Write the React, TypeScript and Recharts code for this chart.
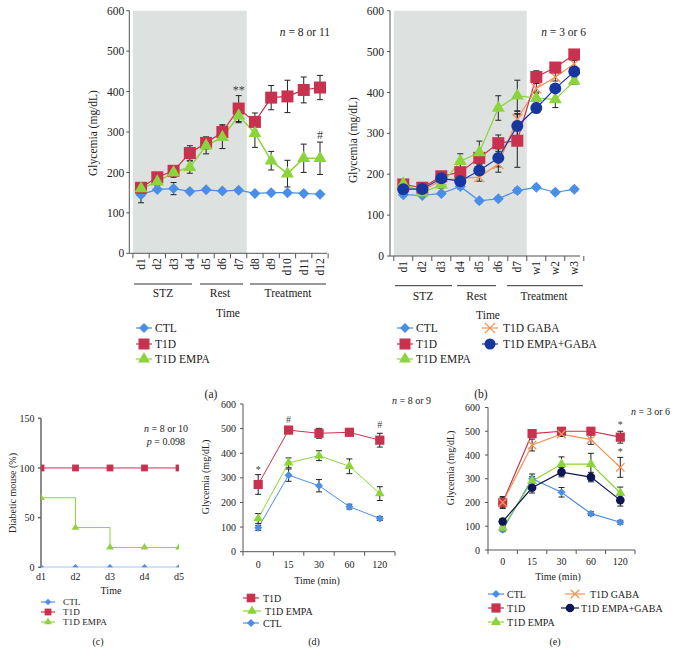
import React from 'react';
import { LineChart, Line, XAxis, YAxis, ErrorBar, ReferenceArea, ReferenceDot } from 'recharts';

const FONT = 'Liberation Serif, DejaVu Serif, serif';
const C_CTL = '#4A8FE7';
const C_T1D = '#C8324F';
const C_EMPA = '#8CD43C';
const C_GABA = '#F29458';
const C_EG_B = '#17379E';
const C_EG_E = '#0C1652';
const AXIS = '#555';
const TXT = '#222';
const ERR = '#222';

// ---------- Panel (a) ----------
const aDays = ['d1', 'd2', 'd3', 'd4', 'd5', 'd6', 'd7', 'd8', 'd9', 'd10', 'd11', 'd12'];
const aCTL = [145, 158, 160, 153, 157, 154, 156, 148, 150, 150, 148, 146];
const aCTLErr = [20, 5, 15, 5, 4, 4, 4, 4, 4, 4, 4, 4];
const aT1D = [162, 188, 204, 248, 273, 300, 358, 325, 385, 388, 404, 410];
const aT1DErr = [8, 8, 10, 18, 15, 18, 32, 22, 30, 40, 32, 30];
const aEMPA = [160, 177, 200, 213, 266, 287, 340, 297, 229, 197, 235, 235];
const aEMPAErr = [6, 10, 12, 15, 20, 28, 17, 35, 23, 33, 35, 40];
const aNotes = [{ x: 7, y: 405, t: '**' }, { x: 12, y: 293, t: '#' }];

// ---------- Panel (b) ----------
const bDays = ['d1', 'd2', 'd3', 'd4', 'd5', 'd6', 'd7', 'w1', 'w2', 'w3'];
const bCTL = [150, 148, 153, 170, 135, 140, 160, 168, 156, 163];
const bCTLErr = [5, 5, 5, 6, 5, 5, 6, 5, 5, 5];
const bT1D = [175, 167, 195, 205, 240, 276, 282, 438, 461, 493];
const bT1DErr = [6, 6, 8, 10, 15, 20, 65, 15, 12, 8];
const bEMPA = [177, 155, 174, 232, 253, 362, 392, 386, 383, 428];
const bEMPAErr = [5, 6, 8, 18, 28, 30, 38, 15, 20, 8];
const bGABA = [170, 160, 185, 190, 193, 225, 335, 410, 438, 470];
const bGABAErr = [5, 5, 8, 8, 10, 20, 20, 12, 10, 8];
const bEG = [163, 164, 190, 183, 209, 240, 318, 362, 410, 451];
const bEGErr = [5, 5, 8, 8, 10, 22, 30, 12, 10, 8];

// ---------- Panel (c) ----------
const cDays = ['d1', 'd2', 'd3', 'd4', 'd5'];
const cCTL = [0, 0, 0, 0, 0];
const cT1D = [100, 100, 100, 100, 100];
const cEMPA = [70, 40, 20, 20, 20];

// ---------- Panel (d) ----------
const dTimes = ['0', '15', '30', '60', '120'];
const dT1D = [273, 494, 481, 485, 453];
const dT1DErr = [40, 8, 20, 8, 28];
const dEMPA = [135, 361, 390, 347, 236];
const dEMPAErr = [20, 20, 20, 30, 28];
const dCTL = [97, 311, 268, 183, 135];
const dCTLErr = [10, 25, 25, 10, 8];
const dNotes = [{ x: 1, y: 334, t: '*' }, { x: 2, y: 538, t: '#' }, { x: 5, y: 516, t: '#' }];

// ---------- Panel (e) ----------
const eTimes = ['0', '15', '30', '60', '120'];
const eT1D = [200, 490, 500, 500, 475];
const eT1DErr = [25, 10, 8, 10, 25];
const eGABA = [200, 442, 488, 465, 348];
const eGABAErr = [20, 25, 10, 20, 42];
const eEMPA = [93, 290, 362, 362, 240];
const eEMPAErr = [8, 20, 30, 45, 25];
const eEG = [120, 262, 328, 307, 210];
const eEGErr = [10, 22, 20, 20, 25];
const eCTL = [85, 300, 243, 153, 117];
const eCTLErr = [8, 20, 20, 8, 8];
const eNotes = [{ x: 5, y: 530, t: '*' }, { x: 5, y: 417, t: '*' }];

const aData = aDays.map((d, i) => ({ x: i + 1, ctl: aCTL[i], ctlE: aCTLErr[i], t1d: aT1D[i], t1dE: aT1DErr[i], empa: aEMPA[i], empaE: aEMPAErr[i] }));
const bData = bDays.map((d, i) => ({ x: i + 1, ctl: bCTL[i], ctlE: bCTLErr[i], t1d: bT1D[i], t1dE: bT1DErr[i], empa: bEMPA[i], empaE: bEMPAErr[i], gaba: bGABA[i], gabaE: bGABAErr[i], eg: bEG[i], egE: bEGErr[i] }));
const cData = cDays.map((d, i) => ({ x: i + 1, ctl: cCTL[i], t1d: cT1D[i], empa: cEMPA[i] }));
const dData = dTimes.map((d, i) => ({ x: i + 1, ctl: dCTL[i], ctlE: dCTLErr[i], t1d: dT1D[i], t1dE: dT1DErr[i], empa: dEMPA[i], empaE: dEMPAErr[i] }));
const eData = eTimes.map((d, i) => ({ x: i + 1, ctl: eCTL[i], ctlE: eCTLErr[i], t1d: eT1D[i], t1dE: eT1DErr[i], empa: eEMPA[i], empaE: eEMPAErr[i], gaba: eGABA[i], gabaE: eGABAErr[i], eg: eEG[i], egE: eEGErr[i] }));

type Shape = 'diamond' | 'square' | 'triangle' | 'circle' | 'x';

function drawMarker(shape: Shape, cx: number, cy: number, s: number, color: string, key?: any) {
  if (cx == null || cy == null || isNaN(cx) || isNaN(cy)) return <g key={key} />;
  switch (shape) {
    case 'diamond':
      return <path key={key} d={`M${cx},${cy - s}L${cx + s},${cy}L${cx},${cy + s}L${cx - s},${cy}Z`} fill={color} />;
    case 'square':
      return <rect key={key} x={cx - s} y={cy - s} width={2 * s} height={2 * s} fill={color} />;
    case 'triangle': {
      const h = s * 1.73;
      return <path key={key} d={`M${cx},${cy - (2 * h) / 3}L${cx + s},${cy + h / 3}L${cx - s},${cy + h / 3}Z`} fill={color} />;
    }
    case 'circle':
      return <circle key={key} cx={cx} cy={cy} r={s} fill={color} />;
    case 'x':
      return (
        <g key={key} stroke={color} strokeWidth={1.3}>
          <line x1={cx - s} y1={cy - s} x2={cx + s} y2={cy + s} />
          <line x1={cx - s} y1={cy + s} x2={cx + s} y2={cy - s} />
        </g>
      );
  }
  return <g key={key} />;
}

const dotFn = (shape: Shape, s: number, color: string) => (p: any) => drawMarker(shape, p.cx, p.cy, s, color, `m-${p.index}`);

const RotTick = (props: any) => {
  const { x, y, payload, labels, half, fs } = props;
  const i = Math.round(payload.value) - 1;
  const last = i === labels.length - 1;
  return (
    <g>
      <line x1={x - half} x2={x - half} y1={y} y2={y + 5} stroke={AXIS} />
      {last && <line x1={x + half} x2={x + half} y1={y} y2={y + 5} stroke={AXIS} />}
      <text transform={`translate(${x + fs * 0.35},${y + 5}) rotate(-90)`} textAnchor="end" fontSize={fs} fontFamily={FONT} style={{ fontFamily: FONT }} fill={TXT}>
        {labels[i]}
      </text>
    </g>
  );
};

const HTick = (props: any) => {
  const { x, y, payload, labels, half, fs, dy, ticks } = props;
  const i = Math.round(payload.value) - 1;
  const last = i === labels.length - 1;
  return (
    <g>
      {ticks && <line x1={x - half} x2={x - half} y1={y} y2={y + 4} stroke={AXIS} />}
      {ticks && last && <line x1={x + half} x2={x + half} y1={y} y2={y + 4} stroke={AXIS} />}
      <text x={x} y={y + dy} textAnchor="middle" fontSize={fs} fontFamily={FONT} style={{ fontFamily: FONT }} fill={TXT}>
        {labels[i]}
      </text>
    </g>
  );
};

const noteDots = (notes: { x: number; y: number; t: string }[], fs: number) =>
  notes.map((n, i) => (
    <ReferenceDot
      key={`n${i}`}
      x={n.x}
      y={n.y}
      r={0}
      fill="none"
      stroke="none"
      label={{ value: n.t, position: 'center', fontSize: fs, fill: '#444', fontFamily: FONT }}
    />
  ));

function LegItem(props: { x: number; y: number; shape: Shape; color: string; s: number; label: string; fs: number; len?: number; tx?: number }) {
  const { x, y, shape, color, s, label, fs } = props;
  const len = props.len ?? 8;
  return (
    <g>
      <line x1={x - len} x2={x + len} y1={y} y2={y} stroke={color} strokeWidth={1.2} />
      {drawMarker(shape, x, y, s, color)}
      <text x={props.tx ?? x + len + 3} y={y} dy="0.35em" fontSize={fs} fontFamily={FONT} style={{ fontFamily: FONT }} fill={TXT}>
        {label}
      </text>
    </g>
  );
}

const yTick = (fs: number) => ({ fontSize: fs, fill: TXT, fontFamily: FONT, style: { fontFamily: FONT } });

function PanelA() {
  return (
    <LineChart width={340} height={300} data={aData} margin={{ top: 10.7, right: 13, bottom: 16.7, left: 0 }}>
      <XAxis type="number" dataKey="x" domain={[0.28, 12.43]} allowDataOverflow ticks={aData.map((d) => d.x)} interval={0}
        stroke={AXIS} tickLine={false} tickSize={0} tickMargin={0} height={30}
        tick={(p: any) => <RotTick {...p} labels={aDays} half={8.13} fs={11.5} />} />
      <YAxis type="number" domain={[0, 600]} allowDataOverflow ticks={[0, 100, 200, 300, 400, 500, 600]} width={129.3}
        stroke={AXIS} tickSize={3} tickMargin={2} tick={yTick(11.5)} />
      <ReferenceArea x1={0.5} x2={7.5} y1={0} y2={600} fill="#DDE1E0" fillOpacity={1} stroke="none" />
      <Line dataKey="ctl" stroke={C_CTL} strokeWidth={1.2} isAnimationActive={false} dot={dotFn('diamond', 5.5, C_CTL)} activeDot={false}>
        <ErrorBar dataKey="ctlE" width={3} stroke={ERR} strokeWidth={1} />
      </Line>
      <Line dataKey="t1d" stroke={C_T1D} strokeWidth={1.2} isAnimationActive={false} dot={dotFn('square', 6, C_T1D)} activeDot={false}>
        <ErrorBar dataKey="t1dE" width={3} stroke={ERR} strokeWidth={1} />
      </Line>
      <Line dataKey="empa" stroke={C_EMPA} strokeWidth={1.5} isAnimationActive={false} dot={dotFn('triangle', 6.5, C_EMPA)} activeDot={false}>
        <ErrorBar dataKey="empaE" width={3} stroke={ERR} strokeWidth={1} />
      </Line>
      {noteDots(aNotes, 12)}
    </LineChart>
  );
}

function PanelB() {
  return (
    <LineChart width={260} height={300} data={bData} margin={{ top: 10.7, right: 20, bottom: 14, left: 0 }}>
      <XAxis type="number" dataKey="x" domain={[0.3, 10.3]} allowDataOverflow ticks={bData.map((d) => d.x)} interval={0}
        stroke={AXIS} tickLine={false} tickSize={0} tickMargin={0} height={30}
        tick={(p: any) => <RotTick {...p} labels={bDays} half={9.5} fs={11.5} />} />
      <YAxis type="number" domain={[0, 600]} allowDataOverflow ticks={[0, 100, 200, 300, 400, 500, 600]} width={50}
        stroke={AXIS} tickSize={3} tickMargin={3} tick={yTick(11.5)} />
      <ReferenceArea x1={0.5} x2={7.5} y1={0} y2={600} fill="#DDE1E0" fillOpacity={1} stroke="none" />
      <Line dataKey="ctl" stroke={C_CTL} strokeWidth={1.2} isAnimationActive={false} dot={dotFn('diamond', 5.5, C_CTL)} activeDot={false}>
        <ErrorBar dataKey="ctlE" width={3} stroke={ERR} strokeWidth={1} />
      </Line>
      <Line dataKey="gaba" stroke={C_GABA} strokeWidth={1.2} isAnimationActive={false} dot={dotFn('x', 5, C_GABA)} activeDot={false}>
        <ErrorBar dataKey="gabaE" width={3} stroke={ERR} strokeWidth={1} />
      </Line>
      <Line dataKey="t1d" stroke={C_T1D} strokeWidth={1.2} isAnimationActive={false} dot={dotFn('square', 6, C_T1D)} activeDot={false}>
        <ErrorBar dataKey="t1dE" width={3} stroke={ERR} strokeWidth={1} />
      </Line>
      <Line dataKey="empa" stroke={C_EMPA} strokeWidth={1.2} isAnimationActive={false} dot={dotFn('triangle', 6.5, C_EMPA)} activeDot={false}>
        <ErrorBar dataKey="empaE" width={3} stroke={ERR} strokeWidth={1} />
      </Line>
      <Line dataKey="eg" stroke={C_EG_B} strokeWidth={1.2} isAnimationActive={false} dot={dotFn('circle', 6, C_EG_B)} activeDot={false}>
        <ErrorBar dataKey="egE" width={3} stroke={ERR} strokeWidth={1} />
      </Line>
    </LineChart>
  );
}

function PanelC() {
  return (
    <LineChart width={200} height={200} data={cData} margin={{ top: 18.3, right: 21, bottom: 12.7, left: 0 }}>
      <XAxis type="number" dataKey="x" domain={[1, 5]} allowDataOverflow ticks={cData.map((d) => d.x)} interval={0}
        axisLine={false} tickLine={false} tickSize={0} tickMargin={0} height={20}
        tick={(p: any) => <HTick {...p} labels={cDays} half={0} fs={10} dy={13} ticks={false} />} />
      <YAxis type="number" domain={[0, 150]} allowDataOverflow ticks={[0, 50, 100, 150]} width={41}
        stroke="#666" strokeWidth={1.5} tickSize={3} tickMargin={3.5} tick={yTick(10)} />
      <Line dataKey="t1d" stroke={C_T1D} strokeWidth={1} isAnimationActive={false} dot={dotFn('square', 3.4, C_T1D)} activeDot={false} />
      <Line dataKey="empa" type="stepAfter" stroke={C_EMPA} strokeWidth={1} isAnimationActive={false} dot={dotFn('triangle', 3.8, C_EMPA)} activeDot={false} />
      <Line dataKey="ctl" stroke={C_CTL} strokeWidth={1.2} isAnimationActive={false} dot={dotFn('diamond', 3.2, C_CTL)} activeDot={false} />
    </LineChart>
  );
}

function PanelD() {
  return (
    <LineChart width={210} height={180} data={dData} margin={{ top: 14, right: 15, bottom: 0, left: 0 }}>
      <XAxis type="number" dataKey="x" domain={[0.5, 5.5]} allowDataOverflow ticks={dData.map((d) => d.x)} interval={0}
        stroke={AXIS} tickLine={false} tickSize={0} tickMargin={0} height={18.3}
        tick={(p: any) => <HTick {...p} labels={dTimes} half={15.2} fs={10} dy={16} ticks={true} />} />
      <YAxis type="number" domain={[0, 600]} allowDataOverflow ticks={[0, 100, 200, 300, 400, 500, 600]} width={43}
        stroke={AXIS} tickSize={3} tickMargin={4} tick={yTick(10)} />
      <Line dataKey="ctl" stroke={C_CTL} strokeWidth={1} isAnimationActive={false} dot={dotFn('diamond', 4, C_CTL)} activeDot={false}>
        <ErrorBar dataKey="ctlE" width={3} stroke={ERR} strokeWidth={1} />
      </Line>
      <Line dataKey="empa" stroke={C_EMPA} strokeWidth={1} isAnimationActive={false} dot={dotFn('triangle', 4.8, C_EMPA)} activeDot={false}>
        <ErrorBar dataKey="empaE" width={3} stroke={ERR} strokeWidth={1} />
      </Line>
      <Line dataKey="t1d" stroke={C_T1D} strokeWidth={1} isAnimationActive={false} dot={dotFn('square', 4.6, C_T1D)} activeDot={false}>
        <ErrorBar dataKey="t1dE" width={3} stroke={ERR} strokeWidth={1} />
      </Line>
      {noteDots(dNotes, 10)}
    </LineChart>
  );
}

function PanelE() {
  return (
    <LineChart width={210} height={180} data={eData} margin={{ top: 17.5, right: 15, bottom: 0, left: 0 }}>
      <XAxis type="number" dataKey="x" domain={[0.5, 5.5]} allowDataOverflow ticks={eData.map((d) => d.x)} interval={0}
        stroke={AXIS} tickLine={false} tickSize={0} tickMargin={0} height={20}
        tick={(p: any) => <HTick {...p} labels={eTimes} half={14.7} fs={10} dy={15} ticks={true} />} />
      <YAxis type="number" domain={[0, 600]} allowDataOverflow ticks={[0, 100, 200, 300, 400, 500, 600]} width={48}
        stroke={AXIS} tickSize={3} tickMargin={5} tick={yTick(10)} />
      <Line dataKey="ctl" stroke={C_CTL} strokeWidth={1.2} isAnimationActive={false} dot={dotFn('diamond', 4, C_CTL)} activeDot={false}>
        <ErrorBar dataKey="ctlE" width={3} stroke={ERR} strokeWidth={1} />
      </Line>
      <Line dataKey="empa" stroke={C_EMPA} strokeWidth={1.2} isAnimationActive={false} dot={dotFn('triangle', 5, C_EMPA)} activeDot={false}>
        <ErrorBar dataKey="empaE" width={3} stroke={ERR} strokeWidth={1} />
      </Line>
      <Line dataKey="eg" stroke={C_EG_E} strokeWidth={1.2} isAnimationActive={false} dot={dotFn('circle', 4.3, C_EG_E)} activeDot={false}>
        <ErrorBar dataKey="egE" width={3} stroke={ERR} strokeWidth={1} />
      </Line>
      <Line dataKey="t1d" stroke={C_T1D} strokeWidth={1.2} isAnimationActive={false} dot={dotFn('square', 4.6, C_T1D)} activeDot={false}>
        <ErrorBar dataKey="t1dE" width={3} stroke={ERR} strokeWidth={1} />
      </Line>
      <Line dataKey="gaba" stroke={C_GABA} strokeWidth={1.2} isAnimationActive={false} dot={dotFn('x', 4.2, C_GABA)} activeDot={false}>
        <ErrorBar dataKey="gabaE" width={3} stroke={ERR} strokeWidth={1} />
      </Line>
      {noteDots(eNotes, 10)}
    </LineChart>
  );
}

function Overlay() {
  const t = (x: number, y: number, s: string, fs: number, anchor: any = 'middle') => (
    <text x={x} y={y} fontSize={fs} fontFamily={FONT} style={{ fontFamily: FONT }} fill={TXT} textAnchor={anchor}>{s}</text>
  );
  const rot = (x: number, y: number, s: string, fs: number) => (
    <text transform={`translate(${x},${y}) rotate(-90)`} fontSize={fs} fontFamily={FONT} style={{ fontFamily: FONT }} fill={TXT} textAnchor="middle">{s}</text>
  );
  const br = (x1: number, x2: number, y: number) => <line x1={x1} x2={x2} y1={y} y2={y} stroke="#333" strokeWidth={1} />;
  const nLab = (x: number, y: number, rest: string, fs: number, letter = 'n') => (
    <text x={x} y={y} fontSize={fs} fontFamily={FONT} style={{ fontFamily: FONT }} fill={TXT} textAnchor="end">
      <tspan fontStyle="italic">{letter}</tspan>{rest}
    </text>
  );
  return (
    <svg width={676} height={664} style={{ position: 'absolute', left: 0, top: 0, pointerEvents: 'none' }}>
      {/* Panel (a) */}
      {rot(97, 133, 'Glycemia (mg/dL)', 11.5)}
      {nLab(330, 36, ' = 8 or 11', 11.5)}
      {br(134, 192, 284)}
      {br(200, 243, 284)}
      {br(250, 326, 284)}
      {t(163, 297, 'STZ', 11.5)}
      {t(220, 297, 'Rest', 11.5)}
      {t(288, 297, 'Treatment', 11.5)}
      {t(228, 317, 'Time', 11.5)}
      <LegItem x={144} y={328} shape="diamond" color={C_CTL} s={5} label="CTL" fs={11.5} />
      <LegItem x={144} y={344} shape="square" color={C_T1D} s={5.5} label="T1D" fs={11.5} />
      <LegItem x={144} y={359} shape="triangle" color={C_EMPA} s={6} label="T1D EMPA" fs={11.5} />
      {t(211, 398, '(a)', 11.5)}

      {/* Panel (b) */}
      {rot(356.5, 140, 'Glycemia (mg/dL)', 11.5)}
      {nLab(586, 36, ' = 3 or 6', 11.5)}
      {br(395, 452, 285.7)}
      {br(457, 496, 285.7)}
      {br(507, 583, 285.7)}
      {t(423, 300, 'STZ', 11.5)}
      {t(476.5, 300, 'Rest', 11.5)}
      {t(544, 300, 'Treatment', 11.5)}
      {t(488, 319, 'Time', 11.5)}
      <LegItem x={405} y={328} shape="diamond" color={C_CTL} s={5} label="CTL" fs={11.5} />
      <LegItem x={405} y={344} shape="square" color={C_T1D} s={5.5} label="T1D" fs={11.5} />
      <LegItem x={405} y={359} shape="triangle" color={C_EMPA} s={6} label="T1D EMPA" fs={11.5} />
      <LegItem x={490} y={328} shape="x" color={C_GABA} s={5} label="T1D GABA" fs={11.5} tx={503} />
      <LegItem x={490} y={344} shape="circle" color={C_EG_B} s={5.5} label="T1D EMPA+GABA" fs={11.5} tx={503} />
      {t(481, 398, '(b)', 11.5)}

      {/* Panel (c) */}
      {rot(15.5, 493, 'Diabetic mouse (%)', 10)}
      {nLab(188, 432, ' = 8 or 10', 10)}
      {nLab(185, 445, ' = 0.098', 10, 'p')}
      {t(111, 593.5, 'Time', 10)}
      <LegItem x={48} y={602} shape="diamond" color={C_CTL} s={3.2} label="CTL" fs={9.2} len={7} tx={63} />
      <LegItem x={48} y={612} shape="square" color={C_T1D} s={3.4} label="T1D" fs={9.2} len={7} tx={63} />
      <LegItem x={48} y={622} shape="triangle" color={C_EMPA} s={3.8} label="T1D EMPA" fs={9.2} len={7} tx={63} />
      {t(98, 645, '(c)', 10)}

      {/* Panel (d) */}
      {rot(208.5, 477, 'Glycemia (mg/dL)', 10)}
      {nLab(431, 404, ' = 8 or 9', 10)}
      {t(317, 584, 'Time (min)', 10)}
      <LegItem x={251} y={598} shape="square" color={C_T1D} s={4.3} label="T1D" fs={10} tx={263} />
      <LegItem x={252} y={611} shape="triangle" color={C_EMPA} s={4.8} label="T1D EMPA" fs={10} len={9} tx={265} />
      <LegItem x={251} y={623} shape="diamond" color={C_CTL} s={4} label="CTL" fs={10} tx={263} />
      {t(314, 645, '(d)', 10)}

      {/* Panel (e) */}
      {rot(453.5, 468, 'Glycemia (mg/dL)', 10)}
      {nLab(670, 415, ' = 3 or 6', 10)}
      {t(558, 580, 'Time (min)', 10)}
      <LegItem x={496} y={594} shape="diamond" color={C_CTL} s={4} label="CTL" fs={10} tx={507} />
      <LegItem x={496} y={608} shape="square" color={C_T1D} s={4.6} label="T1D" fs={10} tx={507} />
      <LegItem x={496} y={622} shape="triangle" color={C_EMPA} s={5} label="T1D EMPA" fs={10} tx={507} />
      <LegItem x={575} y={594} shape="x" color={C_GABA} s={4.2} label="T1D GABA" fs={10} len={10} tx={590} />
      <LegItem x={570} y={608} shape="circle" color={C_EG_E} s={4.3} label="T1D EMPA+GABA" fs={10} len={9} tx={581} />
      {t(555, 645, '(e)', 10)}
    </svg>
  );
}

export default function App() {
  return (
    <div style={{ position: 'absolute', left: 0, top: 0, width: 676, height: 664, background: '#fff', fontFamily: FONT, overflow: 'hidden' }}>
      <div style={{ position: 'absolute', left: 0, top: 0 }}><PanelA /></div>
      <div style={{ position: 'absolute', left: 340, top: 0 }}><PanelB /></div>
      <div style={{ position: 'absolute', left: 0, top: 400 }}><PanelC /></div>
      <div style={{ position: 'absolute', left: 200, top: 390 }}><PanelD /></div>
      <div style={{ position: 'absolute', left: 440, top: 390 }}><PanelE /></div>
      <Overlay />
    </div>
  );
}
